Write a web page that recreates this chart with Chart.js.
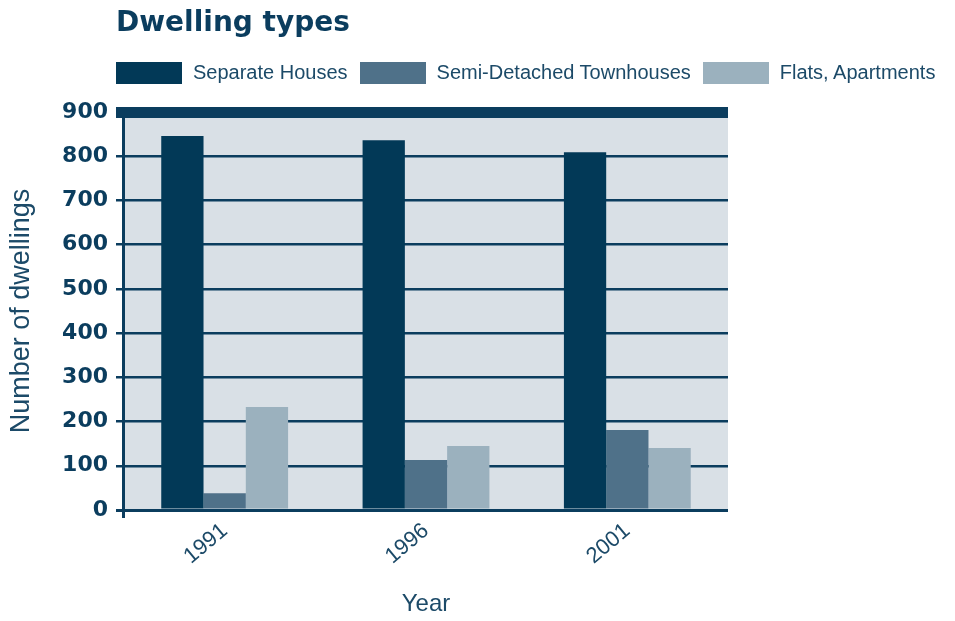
<!DOCTYPE html>
<html>
<head>
<meta charset="utf-8">
<script src="https://cdn.jsdelivr.net/npm/chart.js@4"></script>
<style>
  body { margin: 0; background: #fff; }
  #wrap { position: relative; width: 955px; height: 621px; }
  #title {
    position: absolute; left: 116px; top: 5px;
    font: bold 28px "DejaVu Sans", sans-serif; color: #0b3d5e;
  }
  #legend {
    position: absolute; left: 116px; top: 61px;
    display: flex; align-items: center;
    font: 20px "Liberation Sans", Arial, sans-serif; color: #1c4a68;
  }
  .legend-item { display: flex; align-items: center; margin-right: 12px; }
  .legend-box { width: 66px; height: 22px; margin-right: 11px; }
</style>
</head>
<body>
<div id="wrap">
  <canvas id="chart" width="955" height="621"></canvas>
  <div id="title">Dwelling types</div>
  <div id="legend"></div>
</div>
<script>
//Data
const years = ['1991', '1996', '2001'];
const seriesNames = ['Separate Houses', 'Semi-Detached Townhouses', 'Flats, Apartments'];
const separateHouses = [846, 836, 809];
const semiDetached = [38, 113, 181];
const flatsApartments = [233, 145, 140];
const yMax = 900;
const yStep = 100;

const seriesColors = ['#023957', '#4f7189', '#9bb1be'];
const navy = '#0b3d5e';
const textColor = '#1c4a68';

//fill the plot area with the light grey-blue
const plotBackground = {
  id: 'plotBackground',
  beforeDraw(chart) {
    const { ctx, chartArea } = chart;
    ctx.save();
    ctx.fillStyle = '#d9e0e6';
    ctx.fillRect(chartArea.left, chartArea.top, chartArea.right - chartArea.left, chartArea.bottom - chartArea.top);
    ctx.restore();
  }
};

const allSeries = [separateHouses, semiDetached, flatsApartments];

const chart = new Chart(document.getElementById('chart'), {
  type: 'bar',
  data: {
    labels: years,
    datasets: allSeries.map((values, i) => ({
      label: seriesNames[i],
      data: values,
      backgroundColor: seriesColors[i],
      borderWidth: 0
    }))
  },
  options: {
    responsive: false,
    animation: false,
    layout: { padding: { top: 112, right: 227, bottom: 0, left: 0 } },
    datasets: { bar: { categoryPercentage: 0.63, barPercentage: 1 } },
    plugins: {
      legend: { display: false },
      tooltip: { enabled: false }
    },
    scales: {
      x: {
        offset: true,
        //only the first grid line is shown: it is the vertical axis line
        grid: {
          offset: true,
          tickLength: 8,
          lineWidth: 3,
          color: ctx => ctx.index === 0 ? navy : 'rgba(0,0,0,0)'
        },
        border: { display: false },
        ticks: {
          color: textColor,
          font: { family: 'Liberation Sans', size: 22 },
          minRotation: 40,
          maxRotation: 40,
          padding: 0
        },
        title: {
          display: true,
          text: 'Year',
          color: textColor,
          font: { family: 'Liberation Sans', size: 24 },
          padding: { top: 0, bottom: 2 }
        },
        afterFit(scale) { scale.height = 111; }
      },
      y: {
        min: 0,
        max: yMax,
        grid: {
          color: navy,
          tickLength: 8,
          lineWidth: ctx => ctx.tick.value === yMax ? 11 : (ctx.tick.value === 0 ? 3 : 2.5)
        },
        border: { display: false },
        ticks: {
          stepSize: yStep,
          color: navy,
          padding: 8,
          font: { family: 'DejaVu Sans', size: 22, weight: 'bold' }
        },
        title: {
          display: true,
          text: 'Number of dwellings',
          color: textColor,
          font: { family: 'Liberation Sans', size: 27 },
          padding: { top: 5, bottom: 0 }
        },
        afterFit(scale) { scale.width = 124; }
      }
    }
  },
  plugins: [plotBackground]
});

//HTML legend built from the datasets
const legend = document.getElementById('legend');
chart.data.datasets.forEach(ds => {
  const item = document.createElement('div');
  item.className = 'legend-item';
  const box = document.createElement('span');
  box.className = 'legend-box';
  box.style.background = ds.backgroundColor;
  const label = document.createElement('span');
  label.textContent = ds.label;
  item.appendChild(box);
  item.appendChild(label);
  legend.appendChild(item);
});
</script>
</body>
</html>
